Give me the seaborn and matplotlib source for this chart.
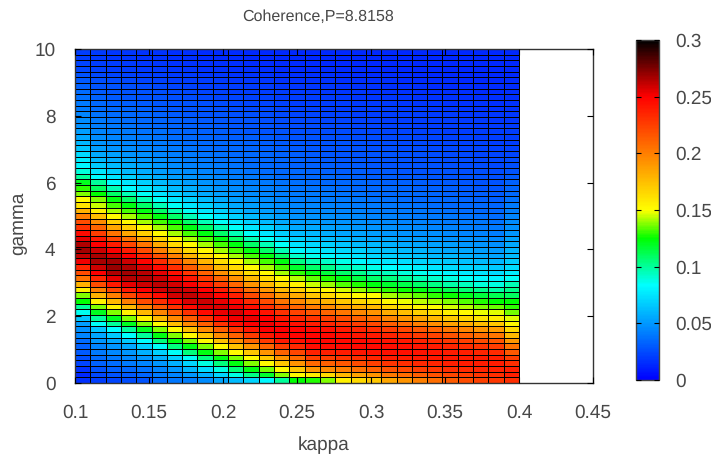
"""Coherence heatmap over kappa and gamma, P=8.8158."""

import matplotlib

matplotlib.use("Agg")
import matplotlib.pyplot as plt
import numpy as np
import pandas as pd
import seaborn as sns
from matplotlib.colors import LinearSegmentedColormap

# coherence * 1000, one list per kappa cell, from gamma=10 (top) down to gamma=0
col_00 = [20, 20, 23, 24, 27, 30, 32, 36, 37, 40, 41, 44, 46, 48, 52, 55, 60, 65, 72, 78, 82, 90, 100, 120, 130, 138, 150, 160, 180, 200, 220, 230, 245, 255, 265, 268, 262, 253, 235, 220, 205, 180, 155, 138, 125, 100, 86, 65, 52, 48, 44, 36, 32, 30, 26, 23, 17, 13, 16]
col_01 = [19, 19, 21, 22, 24, 26, 28, 30, 32, 34, 36, 38, 40, 42, 44, 46, 49, 52, 56, 60, 66, 75, 83, 100, 110, 125, 138, 145, 155, 175, 195, 210, 225, 240, 250, 260, 267, 267, 260, 250, 235, 220, 200, 180, 155, 138, 120, 100, 85, 65, 55, 50, 44, 40, 36, 32, 28, 24, 20]
col_02 = [18, 18, 20, 21, 23, 25, 27, 29, 30, 32, 34, 36, 38, 40, 42, 44, 46, 49, 53, 57, 62, 68, 76, 83, 95, 108, 122, 132, 141, 152, 168, 185, 205, 222, 238, 250, 260, 268, 270, 265, 255, 240, 222, 200, 178, 155, 138, 120, 100, 84, 66, 56, 50, 45, 40, 36, 32, 28, 23]
col_03 = [18, 18, 19, 20, 22, 24, 26, 28, 29, 31, 33, 35, 36, 38, 40, 42, 44, 46, 49, 53, 57, 62, 68, 76, 83, 96, 108, 122, 132, 141, 152, 168, 185, 205, 222, 238, 250, 260, 266, 268, 264, 255, 240, 222, 200, 178, 155, 138, 120, 100, 84, 66, 56, 50, 45, 40, 35, 30, 25]
col_04 = [17, 17, 18, 19, 21, 23, 25, 27, 28, 30, 32, 33, 35, 36, 38, 40, 42, 44, 47, 50, 54, 57, 62, 68, 76, 85, 96, 108, 122, 132, 141, 152, 168, 185, 203, 220, 235, 248, 257, 263, 264, 260, 250, 236, 220, 200, 178, 155, 138, 120, 100, 84, 68, 58, 50, 44, 38, 33, 28]
col_05 = [17, 17, 18, 19, 20, 22, 24, 26, 27, 29, 30, 32, 33, 35, 37, 38, 40, 42, 44, 47, 50, 52, 57, 62, 68, 76, 85, 96, 108, 122, 132, 141, 152, 166, 183, 200, 218, 233, 245, 255, 260, 263, 258, 245, 232, 215, 198, 178, 152, 138, 122, 105, 85, 68, 58, 50, 44, 40, 36]
col_06 = [16, 16, 17, 18, 19, 21, 23, 25, 26, 28, 29, 30, 32, 33, 35, 36, 38, 40, 42, 44, 46, 49, 52, 57, 62, 68, 76, 85, 96, 108, 122, 132, 141, 152, 165, 182, 200, 216, 231, 243, 253, 258, 262, 258, 245, 230, 214, 196, 175, 152, 138, 122, 105, 85, 68, 58, 50, 44, 39]
col_07 = [16, 16, 17, 18, 19, 20, 22, 24, 25, 27, 28, 29, 31, 32, 33, 35, 36, 38, 40, 42, 43, 46, 49, 52, 57, 62, 68, 76, 85, 96, 108, 122, 132, 141, 152, 165, 180, 198, 214, 229, 241, 251, 258, 262, 257, 245, 230, 214, 196, 175, 152, 138, 122, 105, 85, 70, 60, 50, 42]
col_08 = [15, 15, 16, 17, 18, 20, 21, 23, 24, 26, 27, 28, 30, 31, 32, 33, 35, 36, 38, 40, 42, 44, 46, 49, 52, 56, 62, 68, 76, 85, 96, 108, 122, 132, 141, 152, 164, 179, 196, 212, 226, 239, 249, 256, 260, 256, 245, 230, 213, 195, 174, 152, 138, 122, 105, 88, 72, 58, 46]
col_09 = [15, 15, 16, 17, 18, 19, 20, 22, 23, 25, 26, 27, 29, 30, 31, 32, 34, 35, 37, 38, 40, 42, 44, 46, 49, 52, 56, 62, 68, 76, 85, 96, 108, 122, 132, 141, 152, 164, 178, 194, 210, 225, 238, 248, 254, 257, 254, 245, 230, 213, 195, 174, 152, 138, 122, 105, 88, 70, 54]
col_10 = [15, 15, 16, 16, 17, 18, 20, 21, 23, 24, 25, 26, 28, 29, 30, 31, 33, 34, 35, 37, 38, 40, 42, 44, 46, 49, 52, 56, 62, 68, 76, 85, 96, 108, 122, 132, 141, 152, 164, 178, 193, 209, 224, 237, 247, 253, 257, 253, 244, 229, 212, 194, 174, 152, 138, 122, 106, 88, 62]
col_11 = [14, 14, 15, 16, 17, 18, 19, 21, 22, 23, 24, 26, 27, 28, 29, 31, 32, 33, 34, 35, 36, 38, 40, 42, 44, 46, 49, 52, 56, 62, 68, 76, 85, 96, 108, 122, 132, 141, 152, 164, 177, 192, 207, 221, 234, 244, 250, 254, 250, 241, 227, 210, 192, 172, 152, 138, 122, 104, 70]
col_12 = [14, 14, 15, 16, 17, 18, 19, 20, 22, 23, 24, 25, 26, 27, 28, 30, 31, 32, 33, 34, 34, 36, 38, 40, 42, 44, 46, 49, 52, 56, 62, 68, 76, 85, 96, 108, 122, 132, 141, 152, 164, 177, 191, 206, 220, 232, 242, 249, 253, 250, 241, 227, 210, 192, 172, 152, 136, 118, 82]
col_13 = [14, 14, 15, 15, 16, 17, 18, 20, 21, 22, 23, 24, 25, 26, 27, 29, 30, 31, 32, 33, 33, 35, 36, 38, 40, 42, 44, 46, 49, 52, 56, 62, 68, 76, 85, 96, 108, 122, 132, 141, 152, 164, 176, 190, 204, 218, 230, 240, 247, 250, 247, 240, 226, 210, 192, 172, 152, 138, 100]
col_14 = [14, 14, 15, 15, 16, 17, 18, 19, 20, 21, 22, 23, 24, 25, 26, 28, 29, 30, 31, 32, 32, 34, 35, 37, 38, 40, 42, 44, 46, 49, 52, 56, 62, 68, 74, 82, 92, 104, 118, 130, 142, 155, 168, 182, 196, 210, 223, 234, 243, 248, 248, 243, 234, 222, 208, 192, 172, 152, 125]
col_15 = [14, 14, 15, 15, 16, 17, 18, 19, 20, 21, 22, 23, 24, 25, 26, 27, 28, 29, 30, 31, 32, 33, 35, 36, 38, 40, 42, 44, 46, 49, 52, 56, 60, 65, 71, 78, 86, 96, 108, 122, 134, 145, 158, 172, 186, 201, 216, 229, 239, 246, 248, 248, 244, 236, 224, 208, 190, 158, 128]
col_16 = [14, 14, 14, 15, 16, 17, 18, 18, 19, 20, 21, 22, 23, 24, 25, 26, 27, 28, 29, 30, 31, 32, 34, 35, 37, 39, 41, 43, 45, 47, 50, 53, 57, 62, 68, 74, 82, 92, 102, 115, 128, 140, 152, 165, 180, 195, 210, 224, 235, 243, 247, 247, 244, 237, 226, 212, 195, 165, 138]
col_17 = [14, 14, 14, 15, 15, 16, 17, 18, 19, 20, 21, 22, 23, 24, 25, 26, 27, 28, 28, 29, 30, 31, 33, 34, 36, 38, 40, 42, 44, 46, 49, 52, 55, 60, 65, 71, 78, 87, 96, 108, 122, 133, 146, 158, 172, 187, 203, 218, 230, 239, 244, 246, 245, 239, 229, 215, 200, 178, 155]
col_18 = [14, 14, 14, 15, 15, 16, 17, 18, 18, 19, 20, 21, 22, 23, 24, 25, 26, 27, 28, 29, 30, 31, 32, 34, 35, 37, 39, 41, 43, 45, 47, 50, 53, 57, 62, 68, 74, 82, 92, 102, 114, 128, 140, 152, 166, 181, 196, 212, 225, 235, 241, 245, 245, 241, 232, 220, 206, 186, 165]
col_19 = [13, 14, 14, 14, 15, 16, 17, 17, 18, 19, 20, 21, 22, 23, 24, 25, 25, 26, 27, 28, 29, 30, 31, 33, 34, 36, 38, 40, 42, 44, 46, 49, 52, 55, 60, 65, 71, 78, 87, 96, 108, 122, 134, 150, 162, 177, 192, 207, 221, 232, 240, 244, 245, 242, 235, 224, 211, 192, 172]
col_20 = [13, 13, 14, 14, 15, 16, 16, 17, 18, 19, 20, 20, 21, 22, 23, 24, 25, 26, 27, 28, 28, 30, 31, 32, 34, 35, 37, 39, 41, 43, 45, 47, 50, 54, 58, 63, 69, 76, 84, 94, 105, 118, 130, 141, 152, 166, 182, 198, 213, 226, 236, 242, 244, 243, 238, 229, 217, 202, 185]
col_21 = [13, 13, 14, 14, 15, 15, 16, 17, 18, 18, 19, 20, 21, 22, 23, 24, 24, 25, 26, 27, 28, 29, 30, 32, 33, 35, 36, 38, 40, 42, 44, 46, 49, 52, 56, 61, 66, 73, 81, 90, 100, 113, 126, 138, 148, 160, 175, 191, 207, 221, 232, 240, 243, 243, 239, 232, 221, 207, 192]
col_22 = [13, 13, 13, 14, 14, 15, 16, 16, 17, 18, 19, 20, 20, 21, 22, 23, 24, 25, 26, 26, 27, 28, 30, 31, 32, 34, 35, 37, 39, 41, 43, 45, 48, 51, 55, 59, 64, 70, 78, 86, 96, 108, 122, 134, 144, 154, 168, 184, 200, 215, 227, 236, 241, 242, 240, 234, 225, 213, 200]
col_23 = [13, 13, 13, 14, 14, 15, 15, 16, 17, 18, 18, 19, 20, 21, 22, 23, 23, 24, 25, 26, 27, 28, 29, 30, 32, 33, 35, 36, 38, 40, 42, 44, 47, 50, 53, 57, 62, 68, 75, 83, 92, 104, 118, 130, 141, 150, 163, 178, 194, 210, 223, 233, 239, 241, 240, 235, 228, 217, 207]
col_24 = [13, 13, 13, 14, 14, 15, 15, 16, 17, 17, 18, 19, 20, 20, 21, 22, 23, 24, 24, 25, 26, 27, 28, 30, 31, 32, 34, 35, 37, 39, 41, 43, 45, 48, 52, 55, 60, 66, 72, 80, 88, 98, 112, 126, 138, 146, 155, 170, 187, 203, 217, 228, 235, 239, 240, 237, 231, 222, 214]
col_25 = [13, 13, 13, 13, 14, 14, 15, 16, 16, 17, 18, 18, 19, 20, 21, 22, 22, 23, 24, 25, 25, 26, 28, 29, 30, 31, 33, 34, 36, 38, 40, 42, 44, 47, 50, 54, 58, 64, 70, 77, 85, 94, 106, 120, 133, 142, 152, 166, 182, 198, 212, 224, 232, 237, 239, 238, 233, 226, 220]
col_26 = [13, 13, 13, 13, 14, 14, 15, 15, 16, 17, 17, 18, 19, 19, 20, 21, 22, 23, 23, 24, 25, 26, 27, 28, 29, 31, 32, 34, 35, 37, 39, 41, 43, 46, 49, 52, 56, 62, 68, 74, 82, 90, 102, 116, 128, 138, 148, 160, 176, 192, 207, 220, 229, 235, 238, 238, 235, 229, 224]
col_27 = [13, 13, 13, 13, 14, 14, 15, 15, 16, 16, 17, 18, 18, 19, 20, 21, 21, 22, 23, 24, 24, 25, 26, 27, 29, 30, 31, 33, 34, 36, 38, 40, 42, 45, 48, 51, 55, 60, 66, 72, 80, 88, 98, 112, 125, 135, 147, 156, 172, 188, 203, 216, 226, 233, 237, 238, 236, 232, 228]
col_28 = [13, 13, 14, 14, 14, 15, 15, 16, 16, 17, 17, 18, 18, 19, 20, 20, 21, 22, 23, 25, 26, 28, 30, 32, 33, 35, 37, 40, 42, 44, 46, 48, 50, 53, 56, 59, 62, 67, 72, 78, 85, 95, 102, 110, 125, 130, 137, 147, 153, 165, 178, 190, 205, 215, 225, 232, 237, 237, 232]

kappa_ticks = [0.1, 0.15, 0.2, 0.25, 0.3, 0.35, 0.4, 0.45]
kappa_labels = ["0.1", "0.15", "0.2", "0.25", "0.3", "0.35", "0.4", "0.45"]
gamma_ticks = [0, 2, 4, 6, 8, 10]
cbar_ticks = [0, 0.05, 0.1, 0.15, 0.2, 0.25, 0.3]
cbar_labels = ["0", "0.05", "0.1", "0.15", "0.2", "0.25", "0.3"]

TEXT = "#484848"
W, H = 711, 457


def main() -> None:
    plt.rcParams["font.family"] = ["Liberation Sans", "DejaVu Sans"]
    plt.rcParams["text.hinting"] = "no_hinting"
    plt.rcParams["text.hinting_factor"] = 1

    cols = [col_00, col_01, col_02, col_03, col_04, col_05, col_06, col_07, col_08, col_09,
            col_10, col_11, col_12, col_13, col_14, col_15, col_16, col_17, col_18, col_19,
            col_20, col_21, col_22, col_23, col_24, col_25, col_26, col_27, col_28]
    df = pd.DataFrame(np.array(cols).T / 1000.0)

    cmap = LinearSegmentedColormap.from_list(
        "coh",
        [(0, "#0000ff"), (0.2778, "#00ffff"), (0.4167, "#00ff00"),
         (0.5, "#ffff00"), (0.8333, "#ff0000"), (1, "#000000")],
    )

    fig = plt.figure(figsize=(W / 100, H / 100), dpi=100)
    ax = fig.add_axes([75 / W, 1 - 383 / H, 518 / W, 334 / H])
    cax = fig.add_axes([636 / W, 1 - 380 / H, 23 / W, 340 / H])

    # wider than 0.72 snaps to 2 px lines and swamps the cells
    sns.heatmap(df, ax=ax, cbar_ax=cax, cmap=cmap, vmin=0, vmax=0.3,
                linewidths=0.72, linecolor="black",
                xticklabels=False, yticklabels=False)

    # the mesh stops at kappa=0.4, the axis runs on to 0.45
    n_cols, n_rows = df.shape[1], df.shape[0]
    to_x = lambda k: (k - 0.1) / 0.3 * n_cols
    to_y = lambda g: (10 - g) / 10 * n_rows
    ax.set_xlim(0, to_x(0.45))
    ax.set_ylim(n_rows, 0)
    ax.set_xticks([to_x(k) for k in kappa_ticks])
    ax.set_xticklabels(kappa_labels, rotation=0)
    ax.set_yticks([to_y(g) for g in gamma_ticks])
    ax.set_yticklabels([str(g) for g in gamma_ticks], rotation=0)
    ax.set_axisbelow(False)
    ax.tick_params(direction="in", top=True, right=True, length=4.5, width=0.8,
                   color="black", labelcolor=TEXT, labelsize=13.5)
    ax.tick_params(axis="x", pad=15)
    ax.tick_params(axis="y", pad=14)
    for side, spine in ax.spines.items():
        spine.set_visible(True)
        spine.set_linewidth(1.0)
        spine.set_edgecolor("#333333")

    ax.set_xlabel("kappa", fontsize=13.5, color=TEXT, va="center")
    ax.set_ylabel("gamma", fontsize=13.5, color=TEXT, va="center")
    ax.xaxis.set_label_coords((324 - 75) / 518, -(445 - 383) / 334)
    ax.yaxis.set_label_coords((18 - 75) / 518, (383 - 223) / 334)
    ax.set_title("Coherence,P=8.8158", fontsize=11.4, color=TEXT,
                 x=(318 - 75) / 518, pad=20)

    cax.set_axisbelow(False)
    cax.set_yticks(cbar_ticks)
    cax.set_yticklabels(cbar_labels)
    cax.tick_params(direction="in", left=True, right=True, length=3.5, width=0.8,
                    color="black", labelcolor=TEXT, labelsize=13.5, pad=11.5)
    cbar = ax.collections[0].colorbar
    cbar.outline.set_linewidth(1.0)
    cbar.outline.set_edgecolor("#444444")

    fig.savefig("out.png", dpi=100)
    plt.close(fig)


if __name__ == "__main__":
    main()
